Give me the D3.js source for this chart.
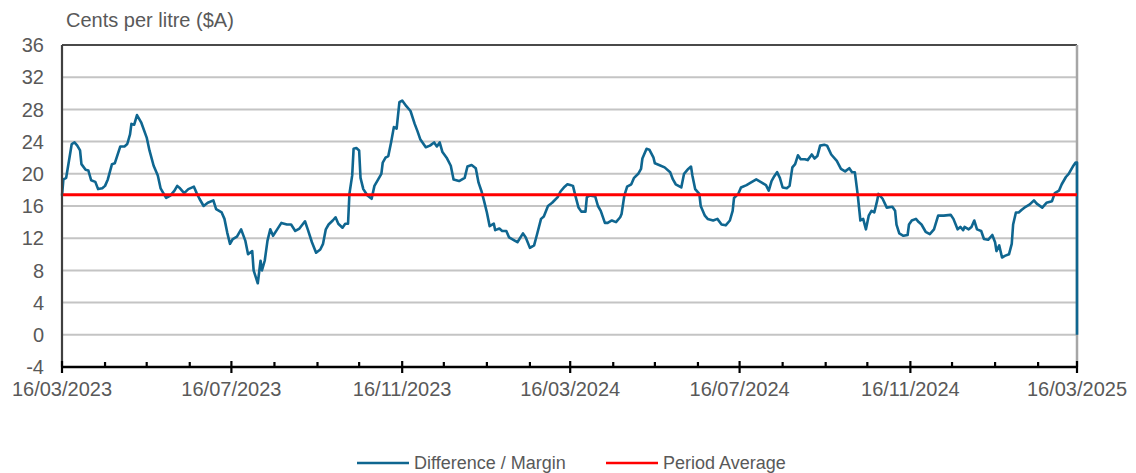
<!DOCTYPE html>
<html>
<head>
<meta charset="utf-8">
<script src="https://cdn.jsdelivr.net/npm/d3@7"></script>
<style>
  body { margin: 0; background: #fff; }
  svg { font-family: "Liberation Sans", Arial, sans-serif; }
</style>
</head>
<body>
<div id="chart"></div>
<script>
// days since 16/03/2023
var dayOffsets = [0, 1, 3, 5, 7, 9, 11, 13, 14, 17, 19, 21, 24, 26, 29, 31, 33, 36, 38, 42, 45, 47, 49, 50, 52, 54, 57, 61, 63, 66, 69, 71, 73, 75, 78, 81, 83, 85, 88, 91, 95, 97, 99, 102, 105, 109, 111, 115, 117, 119, 121, 123, 126, 129, 132, 134, 137, 138, 141, 143, 144, 146, 148, 150, 152, 155, 158, 162, 165, 168, 171, 175, 177, 180, 183,
  186, 188, 190, 192, 195, 197, 199, 202, 204, 206, 207, 209, 210, 212, 214, 215, 217, 220, 223, 225, 227, 230, 231, 233, 235, 237, 239, 241, 243, 245, 248, 251, 254, 256, 258, 262, 265, 268, 270, 272, 274, 277, 280, 282, 286, 290, 292, 295, 298, 300, 302, 304, 306, 308, 311, 312, 315, 317, 320, 322, 326, 328, 332, 334, 337, 340, 342, 345, 347, 350, 353, 357, 359, 362, 364, 366,
  368, 370, 372, 374, 377, 378, 380, 384, 386, 388, 391, 393, 396, 399, 402, 403, 405, 407, 410, 412, 415, 417, 418, 421, 423, 426, 427, 430, 434, 438, 440, 442, 446, 448, 451, 453, 454, 456, 459, 460, 463, 465, 469, 472, 475, 478, 481, 483, 484, 487, 489, 493, 496, 500, 504, 507, 509, 511, 513, 515, 517, 519, 522, 524, 526, 528, 530, 532, 535, 537, 540, 542, 544, 546, 549,
  551, 554, 558, 561, 564, 567, 569, 571, 573, 575, 577, 579, 581, 583, 585, 587, 588, 591, 594, 598, 600, 601, 603, 606, 609, 610, 612, 615, 617, 619, 622, 625, 628, 631, 635, 640, 642, 645, 647, 649, 650, 653, 655, 657, 659, 662, 664, 667, 670, 672, 673, 675, 677, 679, 682, 684, 685, 687, 689, 691, 694, 697, 700, 702, 706, 709, 713, 715, 718, 720, 723, 725, 728, 730, 731, 731];

var margin = [17.3, 19.3, 19.5, 21.6, 23.7, 23.9, 23.5, 22.9, 21.2, 20.5, 20.4, 19.2, 19.0, 18.1, 18.2, 18.5, 19.3, 21.2, 21.3, 23.4, 23.4, 23.7, 24.9, 26.2, 26.1, 27.3, 26.4, 24.5, 22.9, 21.0, 19.8, 18.2, 17.6, 17.0, 17.3, 17.9, 18.5, 18.2, 17.6, 18.1, 18.4, 17.6, 16.9, 16.0, 16.4, 16.7, 15.6, 15.2, 14.4, 12.7, 11.3, 11.9, 12.2, 13.1, 11.7, 10.0, 10.4, 8.0, 6.4, 9.2, 8.0, 9.2, 11.7, 13.1, 12.3, 13.1, 13.9, 13.7, 13.7, 12.9, 13.2, 14.1, 13.1, 11.5, 10.2,
  10.6, 11.3, 13.1, 13.7, 14.2, 14.6, 13.8, 13.3, 13.8, 13.8, 17.5, 19.8, 23.1, 23.2, 22.9, 19.5, 18.1, 17.3, 16.9, 18.5, 19.1, 20.0, 21.4, 22.0, 22.2, 23.9, 25.8, 25.6, 28.9, 29.1, 28.4, 27.8, 26.2, 25.3, 24.3, 23.3, 23.5, 23.9, 23.4, 23.9, 22.7, 22.0, 21.0, 19.3, 19.1, 19.5, 20.9, 21.1, 20.7, 18.9, 17.9, 16.6, 15.2, 13.5, 13.8, 13.0, 13.2, 12.9, 12.9, 12.1, 11.7, 11.5, 12.6, 12.1, 10.8, 11.1, 12.4, 14.4, 14.7, 16.0, 16.4, 17.1, 17.8, 18.4, 18.7, 18.6,
  18.5, 17.1, 15.8, 15.3, 15.3, 17.1, 17.3, 17.2, 16.0, 15.4, 13.9, 13.9, 14.2, 14.0, 14.6, 15.0, 17.3, 18.4, 18.7, 19.5, 20.0, 20.6, 21.9, 23.1, 23.0, 22.0, 21.3, 21.1, 20.8, 20.2, 19.3, 18.7, 18.3, 20.0, 20.6, 20.9, 19.8, 18.1, 17.5, 16.0, 14.8, 14.4, 14.2, 14.4, 13.7, 13.6, 14.2, 15.4, 17.0, 17.5, 18.3, 18.6, 18.9, 19.3, 18.9, 18.6, 17.9, 19.1, 19.7, 20.2, 19.5, 18.3, 18.2, 18.5, 20.8, 21.2, 22.3, 21.8, 21.8, 21.7, 22.4, 21.9, 22.2, 23.5, 23.6,
  23.5, 22.4, 21.6, 20.6, 20.3, 20.7, 20.2, 20.2, 17.5, 14.2, 14.4, 13.1, 14.8, 15.4, 15.2, 16.6, 17.5, 16.9, 15.8, 15.9, 15.4, 13.7, 12.6, 12.3, 12.4, 13.7, 14.2, 14.4, 14.0, 13.7, 12.8, 12.5, 13.1, 14.8, 14.8, 14.9, 14.4, 13.1, 13.4, 13.0, 13.4, 13.1, 13.4, 14.2, 13.1, 12.9, 11.9, 11.8, 12.4, 11.5, 10.4, 11.1, 9.6, 9.8, 10.0, 11.3, 13.7, 15.2, 15.2, 15.5, 15.9, 16.2, 16.7, 16.3, 15.8, 16.4, 16.6, 17.6, 17.9, 18.7, 19.6, 20.0, 20.9, 21.4, 21.4, 0];

var periodAverage = 17.4;
var yTicks = [-4, 0, 4, 8, 12, 16, 20, 24, 28, 32, 36];
var xTickLabels = ["16/03/2023", "16/07/2023", "16/11/2023", "16/03/2024", "16/07/2024", "16/11/2024", "16/03/2025"];
var seriesNames = ["Difference / Margin", "Period Average"];

var width = 1136, height = 473;
var plotLeft = 62, plotRight = 1077, plotTop = 45, plotBottom = 367;

var parse = d3.timeParse("%d/%m/%Y");
var start = parse(xTickLabels[0]), end = parse(xTickLabels[xTickLabels.length - 1]);

var data = dayOffsets.map(function(d, i) {
  return { date: d3.timeDay.offset(start, d), value: margin[i] };
});

var x = d3.scaleTime().domain([start, end]).range([plotLeft, plotRight]);
var y = d3.scaleLinear().domain([-4, 36]).range([plotBottom, plotTop]);

var svg = d3.select("#chart").append("svg")
  .attr("width", width)
  .attr("height", height);

// gridlines
svg.append("g").selectAll("line")
  .data(yTicks.filter(function(t) { return t > -4 && t < 36; }))
  .enter().append("line")
  .attr("x1", plotLeft).attr("x2", plotRight)
  .attr("y1", function(d) { return y(d); })
  .attr("y2", function(d) { return y(d); })
  .attr("stroke", "#c4c4c4")
  .attr("stroke-width", 2);

// frame top and right
svg.append("line")
  .attr("x1", plotLeft).attr("x2", plotRight)
  .attr("y1", y(36)).attr("y2", y(36))
  .attr("stroke", "#4a4a4a").attr("stroke-width", 2);
svg.append("line")
  .attr("x1", plotRight).attr("x2", plotRight)
  .attr("y1", y(36)).attr("y2", plotBottom)
  .attr("stroke", "#a6a6a6").attr("stroke-width", 2.5);

// y axis labels
svg.append("g").selectAll("text")
  .data(yTicks)
  .enter().append("text")
  .attr("x", 44)
  .attr("y", function(d) { return y(d); })
  .attr("dy", "0.36em")
  .attr("text-anchor", "end")
  .attr("font-size", 20)
  .attr("fill", "#595959")
  .text(function(d) { return d; });

svg.append("text")
  .attr("x", 66).attr("y", 27)
  .attr("font-size", 20)
  .attr("fill", "#595959")
  .text("Cents per litre ($A)");

// series
var line = d3.line()
  .x(function(d) { return x(d.date); })
  .y(function(d) { return y(d.value); });

svg.append("path")
  .datum(data)
  .attr("d", line)
  .attr("fill", "none")
  .attr("stroke", "#0f6690")
  .attr("stroke-width", 2.6)
  .attr("stroke-linejoin", "round");

svg.append("line")
  .attr("x1", x(start)).attr("x2", x(end))
  .attr("y1", y(periodAverage)).attr("y2", y(periodAverage))
  .attr("stroke", "#ff0000")
  .attr("stroke-width", 3);

// left axis
svg.append("line")
  .attr("x1", plotLeft).attr("x2", plotLeft)
  .attr("y1", y(36)).attr("y2", plotBottom)
  .attr("stroke", "#404040").attr("stroke-width", 2.2);

// x axis with monthly minor ticks
var months = d3.timeMonth.range(d3.timeMonth.floor(start), d3.timeDay.offset(end, 1)).map(function(m) {
  return new Date(m.getFullYear(), m.getMonth(), 16);
});

svg.append("g").selectAll("line")
  .data(months)
  .enter().append("line")
  .attr("x1", function(d) { return x(d); })
  .attr("x2", function(d) { return x(d); })
  .attr("y1", function(d, i) { return i % 4 === 0 ? plotBottom - 6 : plotBottom - 5; })
  .attr("y2", function(d, i) { return i % 4 === 0 ? plotBottom + 6 : plotBottom; })
  .attr("stroke", "#000")
  .attr("stroke-width", 2.2);

svg.append("line")
  .attr("x1", plotLeft - 1).attr("x2", plotRight + 1)
  .attr("y1", plotBottom).attr("y2", plotBottom)
  .attr("stroke", "#000").attr("stroke-width", 2.6);

svg.append("g").selectAll("text")
  .data(xTickLabels)
  .enter().append("text")
  .attr("x", function(d) { return x(parse(d)); })
  .attr("y", 396)
  .attr("text-anchor", "middle")
  .attr("font-size", 20)
  .attr("fill", "#595959")
  .text(function(d) { return d; });

// legend
var legend = svg.append("g");
var legendX = [357, 606];
var legendColor = ["#0f6690", "#ff0000"];
seriesNames.forEach(function(name, i) {
  legend.append("line")
    .attr("x1", legendX[i]).attr("x2", legendX[i] + 52)
    .attr("y1", 463).attr("y2", 463)
    .attr("stroke", legendColor[i])
    .attr("stroke-width", 2.6);
  legend.append("text")
    .attr("x", legendX[i] + 57).attr("y", 469)
    .attr("font-size", 18)
    .attr("fill", "#595959")
    .text(name);
});
</script>
</body>
</html>
